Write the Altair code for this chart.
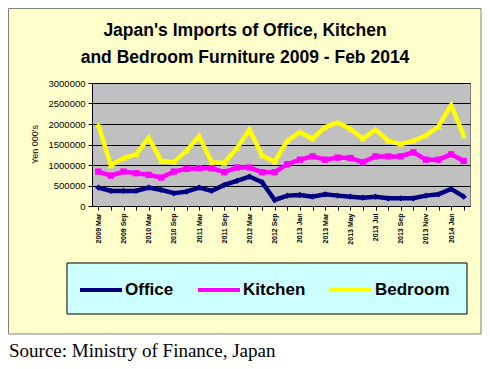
import json
import altair as alt
import pandas as pd

# ---------------- data ----------------
periods = ["2009 Mar", "2009 Jun", "2009 Sep", "2009 Dec",
           "2010 Mar", "2010 Jun", "2010 Sep", "2010 Dec",
           "2011 Mar", "2011 Jun", "2011 Sep", "2011 Dec",
           "2012 Mar", "2012 Jun", "2012 Sep", "2012 Dec",
           "2013 Jan", "2013 Feb", "2013 Mar", "2013 Apr", "2013 May", "2013 Jun",
           "2013 Jul", "2013 Aug", "2013 Sep", "2013 Oct", "2013 Nov", "2013 Dec",
           "2014 Jan", "2014 Feb"]
labeled = ["2009 Mar", "2009 Sep", "2010 Mar", "2010 Sep", "2011 Mar", "2011 Sep",
           "2012 Mar", "2012 Sep", "2013 Jan", "2013 Mar", "2013 May", "2013 Jul",
           "2013 Sep", "2013 Nov", "2014 Jan"]
office = [450000, 367000, 367000, 367000, 450000, 392000, 310000, 351000, 450000, 367000,
          514000, 612000, 718000, 580000, 147000, 253000, 270000, 228000, 285000, 253000,
          228000, 204000, 228000, 188000, 188000, 188000, 253000, 285000, 416000, 228000]
kitchen = [840000, 742000, 840000, 800000, 760000, 693000, 840000, 905000, 920000, 920000,
           825000, 940000, 940000, 825000, 825000, 1020000, 1130000, 1210000, 1130000, 1180000,
           1170000, 1070000, 1210000, 1210000, 1210000, 1310000, 1130000, 1130000, 1260000, 1100000]
bedroom = [1980000, 990000, 1170000, 1260000, 1660000, 1100000, 1070000, 1350000, 1700000, 1070000,
           1050000, 1410000, 1860000, 1230000, 1080000, 1590000, 1800000, 1640000, 1920000, 2040000,
           1880000, 1640000, 1860000, 1590000, 1510000, 1590000, 1720000, 1940000, 2460000, 1720000]
series_names = ["Office", "Kitchen", "Bedroom"]
series_colors = ["#000080", "#FF00FF", "#FFFF00"]
series_shapes = ["diamond", "square", "triangle-up"]
y_ticks = [0, 500000, 1000000, 1500000, 2000000, 2500000, 3000000]
title_lines = ["Japan's Imports of Office, Kitchen", "and Bedroom Furniture 2009 - Feb 2014"]
y_title = "Yen 000's"
source_text = "Source: Ministry of Finance, Japan"

rows = []
for name, vals in zip(series_names, [office, kitchen, bedroom]):
    for p, v in zip(periods, vals):
        rows.append({"period": p, "series": name, "value": v})
df = pd.DataFrame(rows)

# ---------------- layout ----------------
W, H = 378, 123
SANS = "Liberation Sans"
one = pd.DataFrame({"k": [0]})

label_expr = "indexof(" + json.dumps(labeled) + ", datum.value) >= 0 ? datum.value : ''"

x_enc = alt.X("period:O", sort=periods,
              scale=alt.Scale(type="point", padding=0.5),
              axis=alt.Axis(title=None, labelExpr=label_expr, labelAngle=270,
                            labelFont=SANS, labelFontSize=7, labelFontWeight="bold",
                            labelColor="black", labelPadding=3, labelOverlap=False,
                            tickSize=4, tickColor="black", domainColor="black",
                            grid=False))
y_enc = alt.Y("value:Q", scale=alt.Scale(domain=[0, 3000000], nice=False),
              axis=alt.Axis(values=y_ticks, format="d", title=y_title,
                            titleFont=SANS, titleFontSize=9, titleFontWeight="normal",
                            titleColor="black", titleAngle=270, titleX=-58, titleY=61,
                            titleAlign="center", titleBaseline="middle",
                            labelFont=SANS, labelFontSize=9.5, labelColor="black",
                            labelPadding=3, tickSize=4, tickColor="black",
                            domainColor="black", grid=True, gridColor="black",
                            gridWidth=1))

color_scale = alt.Scale(domain=series_names, range=series_colors)
shape_scale = alt.Scale(domain=series_names, range=series_shapes)

white_area = alt.Chart(one).mark_rect(fill="white", stroke="white").encode(
    x=alt.value(-84), x2=alt.value(390), y=alt.value(251.5), y2=alt.value(290))

frame = alt.Chart(one).mark_rect(fill="transparent", stroke="#808080", strokeWidth=1).encode(
    x=alt.value(-83.5), x2=alt.value(389), y=alt.value(-74.5), y2=alt.value(251))

legend_box = alt.Chart(one).mark_rect(fill="#CCFFFF", stroke="black", strokeWidth=1).encode(
    x=alt.value(-25), x2=alt.value(375), y=alt.value(180), y2=alt.value(231))

lines = alt.Chart(df).mark_line(strokeWidth=4.5).encode(
    x=x_enc, y=y_enc,
    color=alt.Color("series:N", scale=color_scale,
                    legend=alt.Legend(orient="none", legendX=-14, legendY=184,
                                      direction="horizontal", columns=3, title=None,
                                      symbolType="stroke", symbolStrokeWidth=4,
                                      symbolSize=1764, labelFont=SANS, labelFontSize=17,
                                      labelFontWeight="bold", labelColor="black",
                                      labelOffset=1, columnPadding=16, padding=0)),
    detail="series:N")

points = alt.Chart(df).mark_point(filled=True, size=40, opacity=1).encode(
    x=x_enc, y=y_enc,
    color=alt.Color("series:N", scale=color_scale, legend=None),
    shape=alt.Shape("series:N", scale=shape_scale, legend=None))

source = alt.Chart(pd.DataFrame({"t": [source_text]})).mark_text(
    align="left", baseline="alphabetic", font="Liberation Serif", fontSize=19,
    color="black").encode(x=alt.value(-83), y=alt.value(274), text="t:N")

chart = alt.layer(white_area, frame, legend_box, lines, points, source).resolve_legend(
    color="independent", shape="independent"
).properties(
    width=W, height=H,
    padding={"left": 84, "top": 75, "right": 12, "bottom": 155},
    autosize=alt.AutoSizeParams(type="none"),
    background="#FFFFCC",
    title=alt.TitleParams(text=title_lines, font=SANS, fontSize=17.5, fontWeight="bold",
                          color="black", anchor="middle", frame="group", dx=-36,
                          offset=-58, lineHeight=27),
).configure_view(fill="#C0C0C0", stroke="#808080")

chart.save("out.html", embed_options={"renderer": "svg", "actions": False})
